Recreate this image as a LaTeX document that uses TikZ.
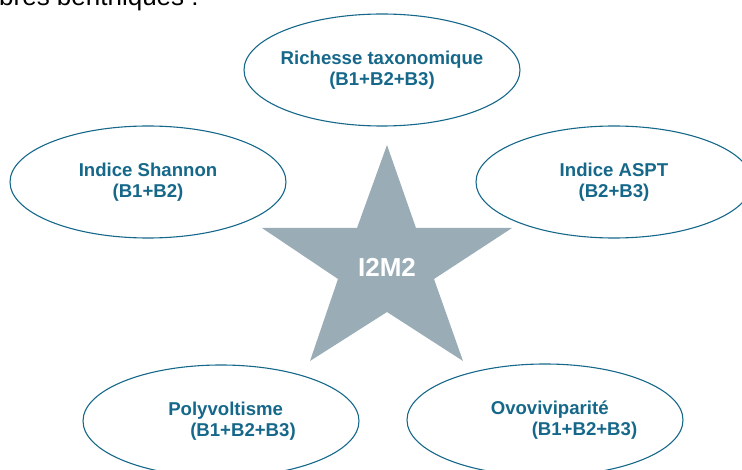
\documentclass[tikz,border=0pt]{standalone}
\usepackage{fontspec}
\setmainfont{Liberation Sans}
\usepackage{xcolor}
\usetikzlibrary{shapes.geometric}
\definecolor{critblue}{HTML}{16688A}
\definecolor{stargrey}{HTML}{9AADB7}

\begin{document}
\begin{tikzpicture}[x=1pt,y=-1pt,
crit/.style={draw=critblue,line width=1.1pt,ellipse,minimum width=276pt,minimum height=112pt,
  inner sep=0pt,inner xsep=-12pt,align=center,text=critblue,font=\fontsize{18.6}{21}\selectfont\bfseries},
core/.style={text=white,inner sep=0pt,font=\fontsize{26}{30}\selectfont\bfseries},
head/.style={anchor=base west,inner sep=0pt,font=\fontsize{26}{30}\selectfont}]
\useasboundingbox (0,0) rectangle (742,470);
\clip (0,0) rectangle (742,470);
\node[head] (title) at (-1,6) {bres benthiques :};
% star
\fill[stargrey] (387,145) -- (416,228) -- (512,228) -- (434,279) -- (463,361) -- (387,312)
  -- (310,361) -- (338,279) -- (262,228) -- (357,228) -- cycle;
\node[core] (i2m2) at (387,267) {I2M2};
% criteria
\node[crit] (rich) at (382,70) {Richesse taxonomique\\(B1+B2+B3)};
\node[crit] (shan) at (148,182) {Indice Shannon\\(B1+B2)};
\node[crit] (aspt) at (614,182) {Indice ASPT\\(B2+B3)};
\node[crit,align=left] (poly) at (221,421) {\hspace*{22pt}Polyvoltisme\\\hspace*{44pt}(B1+B2+B3)};
\node[crit,align=left] (ovo) at (545,420) {\hspace*{38pt}Ovoviviparité\\\hspace*{79pt}(B1+B2+B3)};
\end{tikzpicture}
\end{document}
